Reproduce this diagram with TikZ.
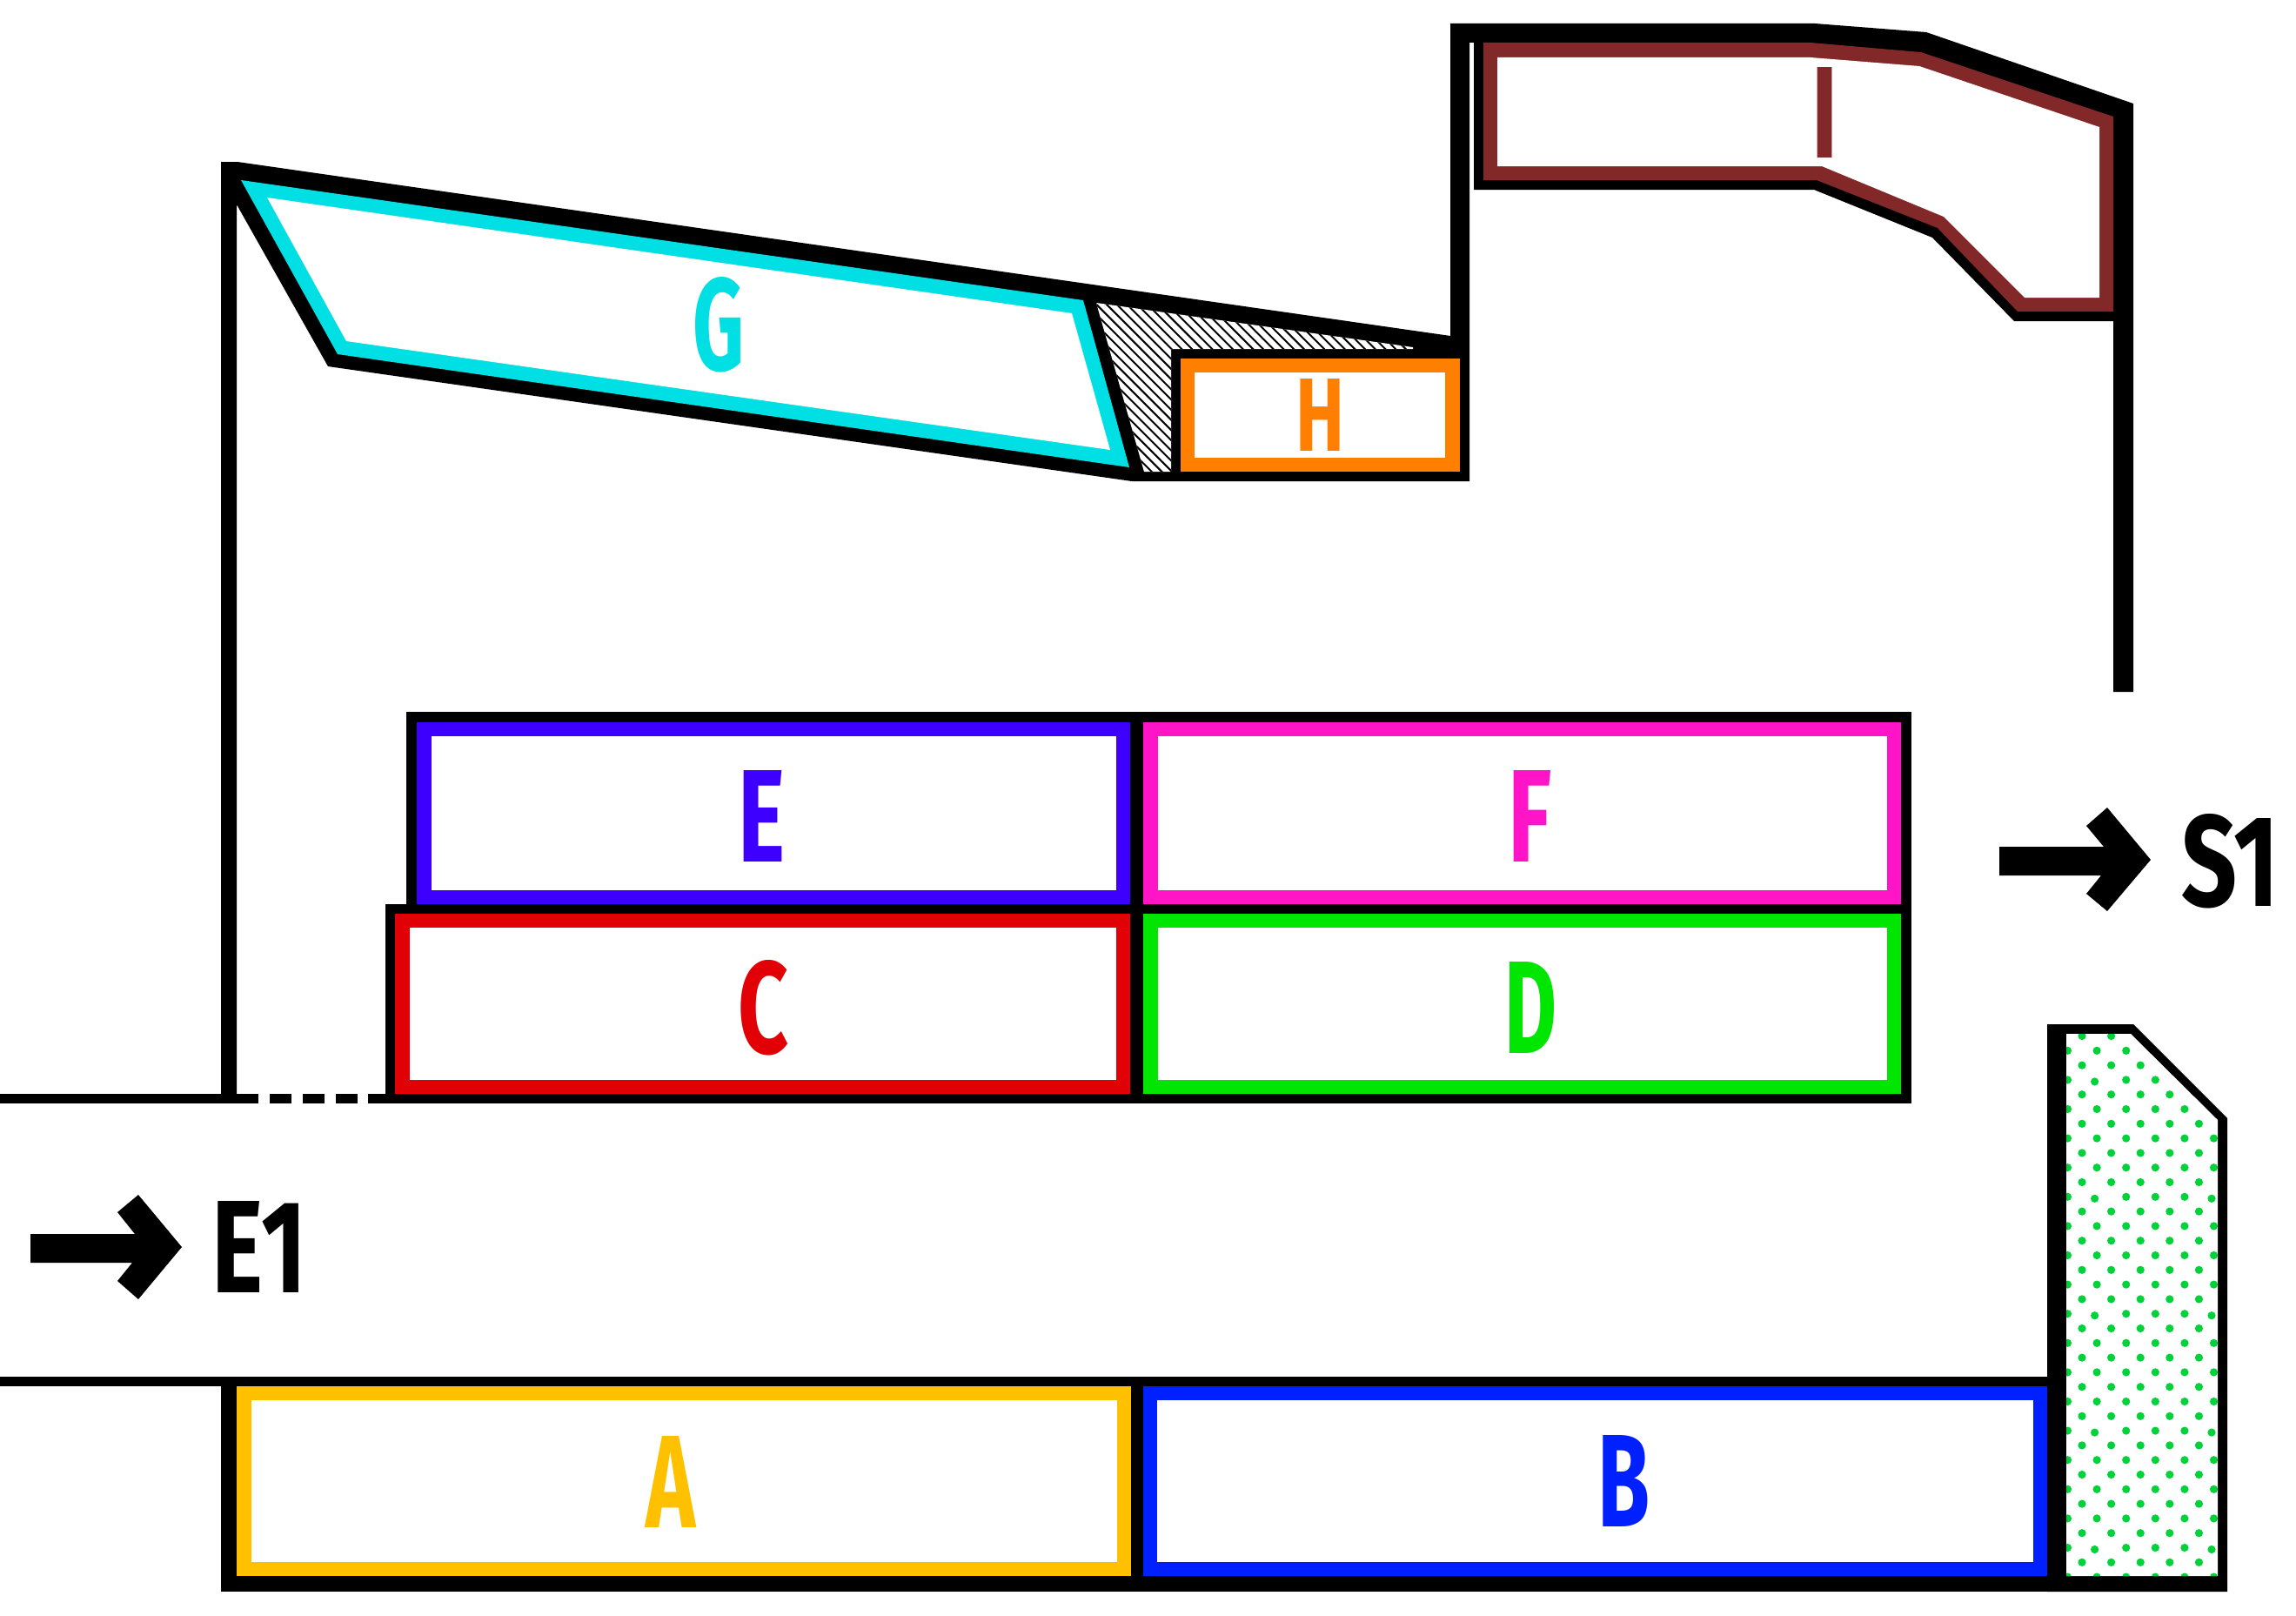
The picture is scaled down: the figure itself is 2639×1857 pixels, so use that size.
\documentclass[tikz,border=0pt]{standalone}
\usepackage{fontspec}
\usepackage{graphicx}
\setmainfont{Fira Sans}[BoldFont={Fira Sans Bold}]
\definecolor{camber}{HTML}{FFC000}
\definecolor{cblue}{HTML}{0020FF}
\definecolor{cviolet}{HTML}{3D00FF}
\definecolor{cpink}{HTML}{FF14C8}
\definecolor{cred}{HTML}{E00006}
\definecolor{cgreen}{HTML}{00E600}
\definecolor{ccyan}{HTML}{00DFE3}
\definecolor{corange}{HTML}{FF8000}
\definecolor{cbrown}{HTML}{832828}
\definecolor{cdot}{HTML}{00D23A}
\newcommand{\lab}[3]{\resizebox{#1pt}{#2pt}{\bfseries #3}}
\newcommand{\roombox}[5]{%
  \fill[#1] (#2,#3) rectangle (#4,#5);
  \fill[white] (#2+16.5,#3+16) rectangle (#4-16,#5-16);}
\tikzset{lbl/.style={inner sep=0pt,outer sep=0pt,anchor=center}}
\begin{document}
\begin{tikzpicture}[x=1pt,y=-1pt]
\useasboundingbox (0,0) rectangle (2639,1857);
\fill[white] (0,0) rectangle (2639,1857);
% upper wall outline
\fill[black] (254,186) -- (273,186) -- (1667,386) -- (1667,27) -- (2086,27) -- (2214,37)
  -- (2452,119) -- (2452,795) -- (2429,795) -- (2429,369) -- (2315,369) -- (2221,273)
  -- (2085,218) -- (1694,218) -- (1694,49) -- (1689,49) -- (1689,553) -- (1301,553)
  -- (377,421) -- (272,235) -- (272,1257) -- (254,1257) -- cycle;
% room I
\fill[cbrown] (1705,49) -- (2081,49) -- (2208,60) -- (2429,134) -- (2429,358) -- (2319,358)
  -- (2227,262) -- (2088,207) -- (1705,207) -- cycle;
\fill[white] (1721,66) -- (2081,66) -- (2206,76) -- (2413,146) -- (2413,342) -- (2327,342)
  -- (2234,249) -- (2094,191) -- (1721,191) -- cycle;
% room G
\fill[ccyan] (277,207) -- (1245,345) -- (1298,537) -- (388,407) -- cycle;
\fill[white] (307,227) -- (1232,360) -- (1276,517) -- (398,392) -- cycle;
% hatched area
\begin{scope}
\clip (1260,348) -- (1624,399) -- (1624,401) -- (1346,401) -- (1346,542) -- (1315,542) -- cycle;
\fill[white] (1200,300) rectangle (1700,600);
\foreach \k in {0,...,40}{
  \pgfmathsetmacro\cc{770+11.7*\k}
  \draw[black,line width=2pt] ({\cc+300},300) -- ({\cc+600},600);
}
\end{scope}
% room H
\fill[corange] (1357,412) rectangle (1678,542);
\fill[white] (1373,428) rectangle (1661,526);
% central block
\fill[black] (467,818) rectangle (2197,1039);
\fill[black] (443,1039) rectangle (2197,1268);
\roombox{cviolet}{479}{830}{1299}{1039}
\roombox{cpink}{1314}{830}{2185}{1039}
\roombox{cred}{454}{1050}{1299}{1256.5}
\roombox{cgreen}{1314}{1050}{2185}{1256.5}
% street upper edge
\fill[black] (0,1257) rectangle (297,1268);
\fill[black] (310,1257) rectangle (335,1268);
\fill[black] (348,1257) rectangle (373,1268);
\fill[black] (386,1257) rectangle (411,1268);
\fill[black] (423,1257) rectangle (443,1268);
% lower block
\fill[black] (0,1582) rectangle (2375,1593);
\fill[black] (254,1593) rectangle (2375,1829);
\fill[camber] (272,1593) rectangle (1300,1811);
\fill[white] (289,1609) rectangle (1284,1795);
\fill[cblue] (1314,1593) rectangle (2353,1811);
\fill[white] (1330,1609) rectangle (2337,1795);
% dotted area
\fill[black] (2353,1177) -- (2452,1177) -- (2560,1285) -- (2560,1829) -- (2353,1829) -- cycle;
\begin{scope}
\clip (2375,1188) -- (2449,1188) -- (2549,1287) -- (2549,1811) -- (2375,1811) -- cycle;
\fill[white] (2360,1170) rectangle (2570,1820);
\foreach \n in {0,...,37}{
  \pgfmathsetmacro\yy{1190.5+16.8*\n}
  \pgfmathsetmacro\xo{isodd(\n)?2376.5:2393}
  \foreach \m in {0,...,5}{
    \pgfmathsetmacro\jit{(mod(\n,8)==3 && (\m==1||\m==5))?1:0}
    \fill[cdot] ({\xo+33.6*\m-2.5*\jit},{\yy+2*\jit}) circle[radius=4.6pt];
  }
}
\end{scope}
% arrows
\fill[black] (35,1418) -- (155,1418) -- (135,1393) -- (159,1373) -- (209,1433) -- (159,1493)
  -- (135,1472) -- (152,1451) -- (35,1451) -- cycle;
\fill[black] (2298,973) -- (2418,973) -- (2398,949) -- (2422,928) -- (2472,988) -- (2422,1047)
  -- (2398,1027) -- (2415,1006) -- (2298,1006) -- cycle;
% labels
\node[lbl,text=camber] (la) at (771,1702.5) {\lab{57}{105}{A}};
\node[lbl,text=cblue] (lb) at (1866,1701.5) {\lab{60}{105}{B}};
\node[lbl,text=cred] (lc) at (877,1158) {\lab{58}{107}{C}};
\node[lbl,text=cgreen] (ld) at (1759,1158) {\lab{60}{105}{D}};
\node[lbl,text=cviolet] (le) at (876,938) {\lab{54}{105}{E}};
\node[lbl,text=cpink] (lf) at (1758,938) {\lab{50}{105}{F}};
\node[lbl,text=ccyan] (lg) at (826,373) {\lab{59}{107}{G}};
\node[lbl,text=corange] (lh) at (1517,476.5) {\lab{56}{83}{H}};
\node[lbl,text=cbrown] (li) at (2097.5,129) {\lab{30}{104}{I}};
\node[lbl] (le1) at (298,1432.5) {\lab{108}{105}{E1}};
\node[lbl] (ls1) at (2563,990) {\lab{112}{106}{S1}};
\end{tikzpicture}
\end{document}
